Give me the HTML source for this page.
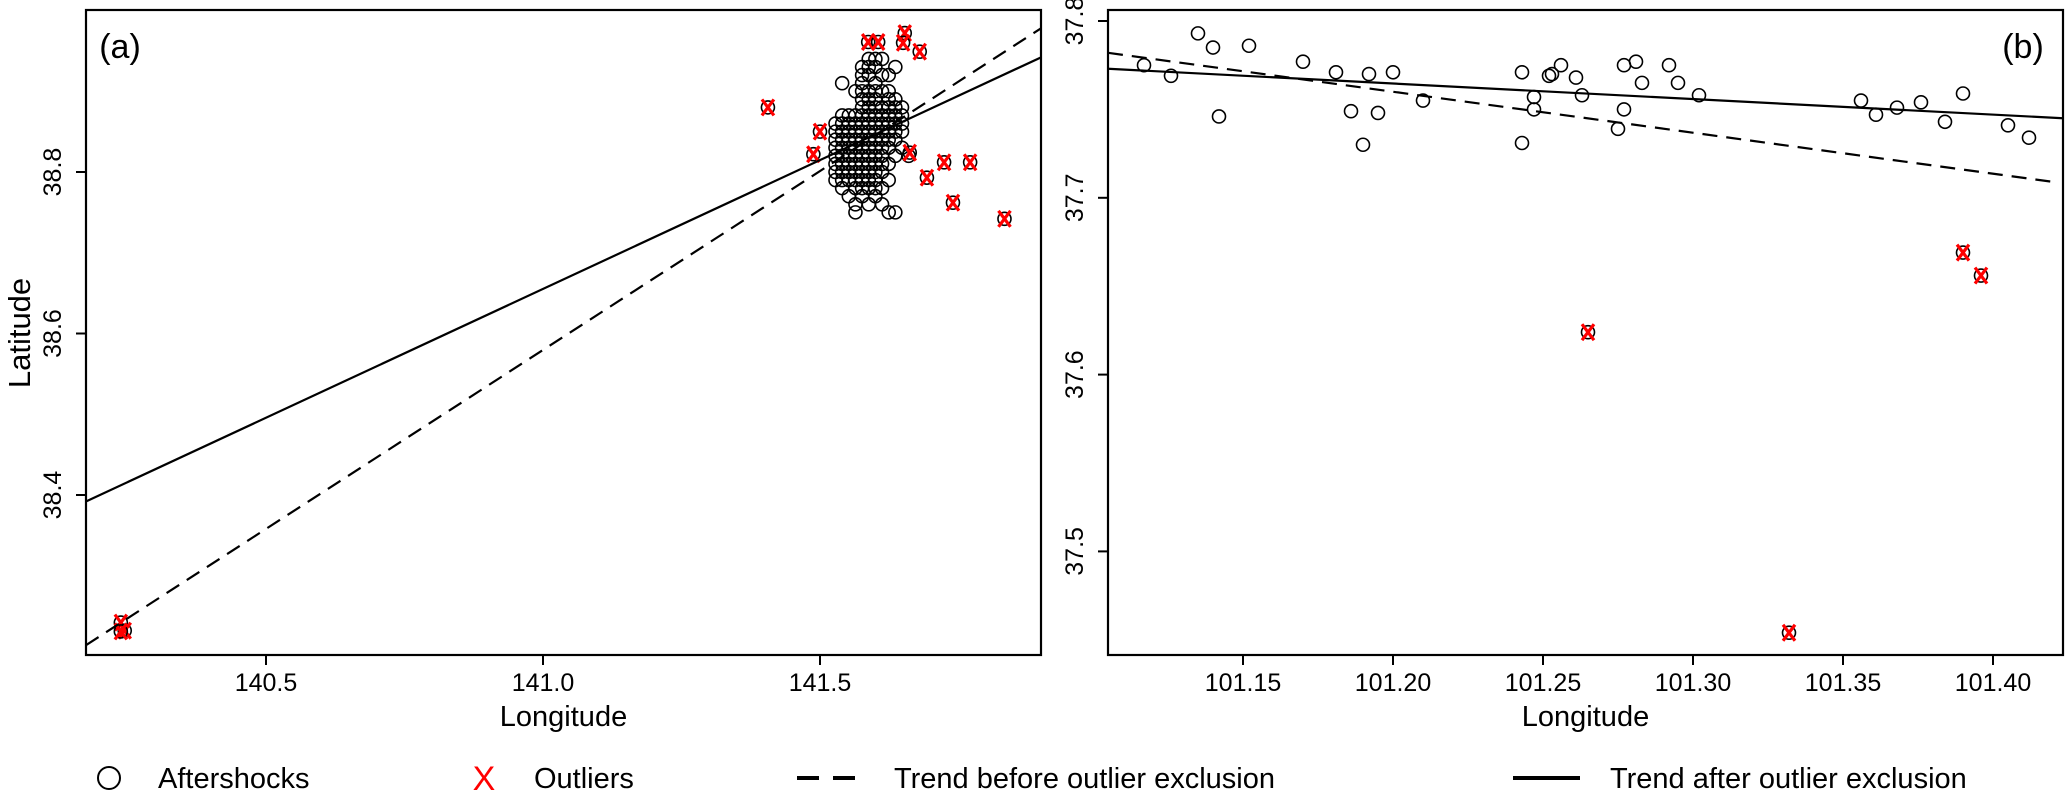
<!DOCTYPE html>
<html><head><meta charset="utf-8">
<style>
html,body{margin:0;padding:0;background:#fff;}
svg{display:block;font-family:"Liberation Sans",sans-serif;}
</style></head>
<body>
<svg id="chart" width="2067" height="800" viewBox="0 0 2067 800" xmlns="http://www.w3.org/2000/svg">
<g id="pa"></g>
<g id="pb"></g>
<g id="legend"></g>
</svg>
<script>
// ---- Panel A data ----
const aXTicks = [140.5, 141.0, 141.5];
const aXTickLabels = ["140.5", "141.0", "141.5"];
const aYTicks = [38.4, 38.6, 38.8];
const aYTickLabels = ["38.4", "38.6", "38.8"];
const aClusterLons = [141.528,141.540,141.552,141.564,141.576,141.588,141.600,141.612,141.624,141.636,141.648,141.660];
const aClusterLats = [
 [38.79,38.80,38.81,38.82,38.83,38.84,38.85,38.86],
 [38.78,38.79,38.80,38.81,38.82,38.83,38.84,38.85,38.86,38.87,38.91],
 [38.77,38.79,38.80,38.81,38.82,38.83,38.84,38.85,38.86,38.87],
 [38.75,38.76,38.78,38.79,38.80,38.81,38.82,38.83,38.84,38.85,38.86,38.87,38.90],
 [38.77,38.78,38.79,38.80,38.81,38.82,38.83,38.84,38.85,38.86,38.87,38.88,38.89,38.90,38.91,38.92,38.93],
 [38.76,38.78,38.79,38.80,38.81,38.82,38.83,38.84,38.85,38.86,38.87,38.88,38.89,38.90,38.92,38.93,38.94],
 [38.77,38.78,38.79,38.80,38.81,38.82,38.83,38.84,38.85,38.86,38.87,38.88,38.89,38.90,38.91,38.93,38.94],
 [38.76,38.78,38.80,38.81,38.82,38.83,38.84,38.85,38.86,38.87,38.88,38.90,38.92,38.94],
 [38.75,38.79,38.81,38.83,38.84,38.85,38.86,38.87,38.88,38.89,38.90,38.92],
 [38.75,38.82,38.84,38.85,38.86,38.87,38.88,38.89,38.93],
 [38.83,38.85,38.86,38.87,38.88],
 [38.82]
];
const aOutLons = [141.587,141.605,141.653,141.650,141.680,141.662,141.693,141.500,141.488,141.406,141.724,141.771,141.740,141.833,140.238,140.245,140.238];
const aOutLats = [38.961,38.961,38.972,38.960,38.949,38.824,38.793,38.850,38.822,38.880,38.812,38.812,38.762,38.742,38.242,38.232,38.231];
const aSolid = [[140.175, 38.392],[141.899, 38.942]];
const aDashed = [[140.175, 38.214],[141.899, 38.978]];

// ---- Panel B data ----
const bXTicks = [101.15,101.20,101.25,101.30,101.35,101.40];
const bXTickLabels = ["101.15","101.20","101.25","101.30","101.35","101.40"];
const bYTicks = [37.5,37.6,37.7,37.8];
const bYTickLabels = ["37.5","37.6","37.7","37.8"];
const bLons = [101.117,101.126,101.135,101.140,101.152,101.142,101.170,101.181,101.192,101.200,101.186,101.195,101.190,101.210,101.243,101.243,101.247,101.247,101.252,101.253,101.256,101.261,101.263,101.277,101.281,101.283,101.277,101.275,101.292,101.295,101.302,101.356,101.361,101.368,101.376,101.384,101.390,101.405,101.412];
const bLats = [37.775,37.769,37.793,37.785,37.786,37.746,37.777,37.771,37.770,37.771,37.749,37.748,37.730,37.755,37.771,37.731,37.757,37.750,37.769,37.770,37.775,37.768,37.758,37.775,37.777,37.765,37.750,37.739,37.775,37.765,37.758,37.755,37.747,37.751,37.754,37.743,37.759,37.741,37.734];
const bOutLons = [101.390,101.396,101.332,101.265];
const bOutLats = [37.669,37.656,37.454,37.624];
const bSolid = [[101.105, 37.773],[101.4233, 37.745]];
const bDashed = [[101.105, 37.782],[101.420, 37.709]];

const NS = "http://www.w3.org/2000/svg";
function mk(parent, tag, attrs, text){
  const e = document.createElementNS(NS, tag);
  for (const k in attrs) e.setAttribute(k, attrs[k]);
  if (text !== undefined) e.textContent = text;
  parent.appendChild(e);
  return e;
}

function drawPanel(g, cfg){
  const sx = v => cfg.x0 + (v - cfg.xr0) * cfg.kx;
  const sy = v => cfg.y0 + (cfg.yr0 - v) * cfg.ky;
  const fr = mk(g, "rect", {x:cfg.L, y:cfg.T, width:cfg.R-cfg.L, height:cfg.B-cfg.T, fill:"none", stroke:"#000", "stroke-width":2.2});
  
  
  const clip = mk(g, "clipPath", {id:cfg.id+"-clip"});
  mk(clip, "rect", {x:cfg.L, y:cfg.T, width:cfg.R-cfg.L, height:cfg.B-cfg.T});
  const inner = mk(g, "g", {"clip-path":"url(#"+cfg.id+"-clip)"});
  
  
  cfg.xt.forEach((t,i)=>{
    const x = sx(t);
    const tk = mk(g, "line", {x1:x, x2:x, y1:cfg.B, y2:cfg.B+10, stroke:"#000", "stroke-width":2});
    
    
    const lb = mk(g, "text", {x:x, y:cfg.B+36, "font-size":25, "text-anchor":"middle"}, cfg.xtl[i]);
    
    
  });
  cfg.yt.forEach((t,i)=>{
    const y = sy(t);
    const tk = mk(g, "line", {x1:cfg.L-10, x2:cfg.L, y1:y, y2:y, stroke:"#000", "stroke-width":2});
    
    
    const lx = cfg.L - 25;
    const lb = mk(g, "text", {x:lx, y:y, "font-size":25, "text-anchor":"middle", transform:"rotate(-90 "+lx+" "+y+")"}, cfg.ytl[i]);
    
    
  });
  const xt = mk(g, "text", {x:(cfg.L+cfg.R)/2, y:726, "font-size":29, "text-anchor":"middle"}, "Longitude");
  
  
  const pl = mk(g, "text", {x:cfg.lblX, y:58, "font-size":34, "text-anchor":"middle"}, cfg.lbl);
  
  
  cfg.pts.forEach(p=>{
    const c = mk(inner, "circle", {cx:sx(p[0]), cy:sy(p[1]), r:6.5, fill:"none", stroke:"#000", "stroke-width":1.6});
    
    
  });
  cfg.outs.forEach(p=>{
    const x = sx(p[0]), y = sy(p[1]);
    const c = mk(inner, "circle", {cx:x, cy:y, r:6.5, fill:"none", stroke:"#000", "stroke-width":1.6});
    
    
    const o = mk(inner, "path", {d:"M"+(x-6)+" "+(y-8)+"L"+(x+6)+" "+(y+8)+"M"+(x+6)+" "+(y-8)+"L"+(x-6)+" "+(y+8), stroke:"#f00", "stroke-width":3.2, fill:"none"});
    
    
  });
  const d = mk(inner, "line", {x1:sx(cfg.dashed[0][0]), y1:sy(cfg.dashed[0][1]), x2:sx(cfg.dashed[1][0]), y2:sy(cfg.dashed[1][1]), stroke:"#000", "stroke-width":2.2, "stroke-dasharray":"15 9"});
  
  
  const s = mk(inner, "line", {x1:sx(cfg.solid[0][0]), y1:sy(cfg.solid[0][1]), x2:sx(cfg.solid[1][0]), y2:sy(cfg.solid[1][1]), stroke:"#000", "stroke-width":2.2});
  
  
}

const aPts = [];
aClusterLons.forEach((lon,i)=>aClusterLats[i].forEach(lat=>aPts.push([lon,lat])));
drawPanel(document.getElementById("pa"), {
  id:"panel-a", L:86, R:1041, T:10, B:655,
  x0:820, xr0:141.5, kx:554, y0:172, yr0:38.8, ky:807.5,
  xt:aXTicks, xtl:aXTickLabels, yt:aYTicks, ytl:aYTickLabels,
  pts:aPts, outs:aOutLons.map((v,i)=>[v,aOutLats[i]]),
  solid:aSolid, dashed:aDashed, lbl:"(a)", lblX:120
});
drawPanel(document.getElementById("pb"), {
  id:"panel-b", L:1108, R:2063, T:10, B:655,
  x0:1243, xr0:101.15, kx:3000, y0:21, yr0:37.8, ky:1768,
  xt:bXTicks, xtl:bXTickLabels, yt:bYTicks, ytl:bYTickLabels,
  pts:bLons.map((v,i)=>[v,bLats[i]]), outs:bOutLons.map((v,i)=>[v,bOutLats[i]]),
  solid:bSolid, dashed:bDashed, lbl:"(b)", lblX:2023
});
const yt = mk(document.getElementById("pa"), "text", {x:30, y:333, "font-size":31, "text-anchor":"middle", transform:"rotate(-90 30 333)"}, "Latitude");



const lg = document.getElementById("legend");
const ly = 778;
const e1 = mk(lg, "circle", {cx:109, cy:ly, r:11, fill:"none", stroke:"#000", "stroke-width":2});


const t1 = mk(lg, "text", {x:158, y:ly+10, "font-size":29}, "Aftershocks");


const e2 = mk(lg, "text", {x:484, y:ly+12, "font-size":34, fill:"#f00", "text-anchor":"middle"}, "X");


const t2 = mk(lg, "text", {x:534, y:ly+10, "font-size":29}, "Outliers");


const e3 = mk(lg, "line", {x1:797, x2:866, y1:ly, y2:ly, stroke:"#000", "stroke-width":4, "stroke-dasharray":"22 14"});


const t3 = mk(lg, "text", {x:894, y:ly+10, "font-size":29}, "Trend before outlier exclusion");


const e4 = mk(lg, "line", {x1:1513, x2:1580, y1:ly, y2:ly, stroke:"#000", "stroke-width":4});


const t4 = mk(lg, "text", {x:1610, y:ly+10, "font-size":29}, "Trend after outlier exclusion");


</script>
</body></html>
